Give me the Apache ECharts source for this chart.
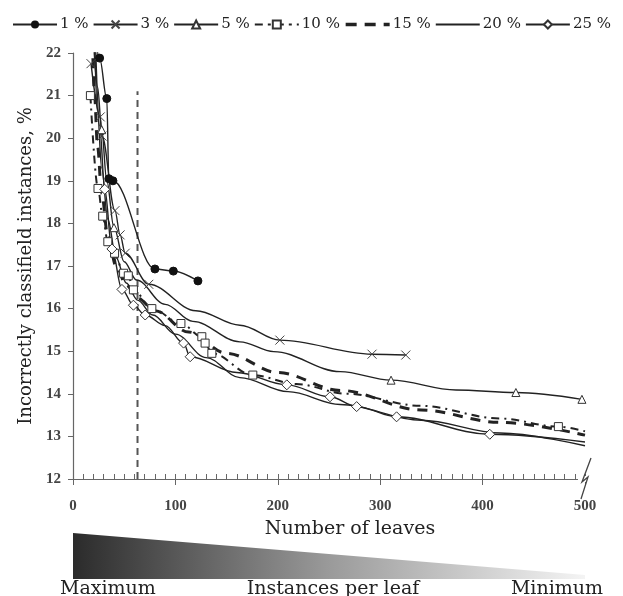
<!DOCTYPE html>
<html>
<head>
<meta charset="utf-8">
<script src="https://cdn.jsdelivr.net/npm/echarts@6/dist/echarts.min.js"></script>
<style>html,body{margin:0;padding:0;background:#fff}#c{width:623px;height:596px}</style>
</head>
<body>
<div id="c"></div>
<script>
// ---- data ----
const seriesNames = ['1 %', '3 %', '5 %', '10 %', '15 %', '20 %', '25 %'];
const pct1 = [[22,22.3],[26,21.88],[33,20.93],[35,19.05],[39,19.0],[80,16.93],[98,16.88],[122,16.65]];
const pct3 = [[17.6,21.75],[26.6,20.5],[28.3,20.05],[41,18.3],[46,17.73],[51,17.3],[74,16.57],[120,15.95],[163,15.61],[202,15.26],[292,14.93],[325,14.91]];
const pct5 = [[20,22.3],[24,21.2],[28,20.2],[33,19.0],[40,17.9],[50,17.1],[62,16.67],[90,16.1],[117,15.7],[163,15.22],[196,14.99],[261,14.52],[310.6,14.32],[374,14.09],[432.5,14.03],[497,13.87]];
const pct10 = [[17,21.0],[24.4,18.82],[29,18.17],[34,17.57],[40.6,17.3],[49.4,16.83],[54,16.77],[59,16.44],[77,16.0],[105.4,15.65],[125.8,15.34],[129,15.19],[135.6,14.95],[175.6,14.44],[218,14.23],[267,14.0],[339,13.72],[417,13.42],[474,13.23],[500,13.12]];
const pct15 = [[19,22.3],[21,21.0],[24,19.8],[28,18.7],[34,17.7],[42,17.0],[52,16.55],[63,16.25],[80,15.95],[113,15.45],[150,14.95],[200,14.5],[261,14.08],[340,13.62],[417,13.33],[500,13.03]];
const pct20 = [[21,22.3],[24,20.6],[28,19.3],[34,18.1],[42,17.2],[52,16.6],[63,16.2],[78,15.85],[100,15.4],[130,14.85],[163,14.38],[210,14.05],[261,13.75],[340,13.38],[417,13.08],[500,12.78]];
const pct25 = [[22,22.2],[26,20.3],[31,18.8],[38,17.4],[47.8,16.45],[59,16.08],[70.5,15.85],[90,15.6],[108,15.19],[114.4,14.87],[160,14.5],[208.8,14.21],[251,13.93],[277,13.7],[316,13.46],[407,13.05],[500,12.87]];
// indexes of the points that carry a visible marker
const marks1 = [0,1,2,3,4,5,6,7];
const marks3 = [0,1,2,3,4,5,6,9,10,11];
const marks5 = [2,4,12,14,15];
const marks10 = [0,1,2,3,4,5,6,7,8,9,10,11,12,13,18];
const marks25 = [2,3,4,5,6,8,9,11,12,13,14,15];
const cutoffLeaves = 63;
const cutoffRange = [12, 21.1];
const xTicks = [0, 100, 200, 300, 400, 500];
const yRange = [12, 22];
const bottomLabels = ['Maximum', 'Instances per leaf', 'Minimum'];

// ---- chart ----
const serif = 'DejaVu Serif';
const ink = '#222';
const chart = echarts.init(document.getElementById('c'), null, {renderer: 'canvas'});

function withMarks(values, marks) {
  return values.map((p, i) => (marks && marks.includes(i)) ? p : {value: p, symbol: 'none'});
}
function mkLine(name, values, marks, symbol, symbolSize, itemStyle, lineStyle) {
  return {
    name, type: 'line', data: withMarks(values, marks),
    symbol: symbol, symbolSize: symbolSize, showSymbol: true,
    smooth: 0.35, smoothMonotone: 'x', clip: true,
    itemStyle: itemStyle,
    lineStyle: Object.assign({color: ink, width: 1.4}, lineStyle || {}),
    emphasis: {disabled: true}, z: 3
  };
}
const openStyle = {color: '#fff', borderColor: '#333', borderWidth: 1};
const xSym = 'path://M0,0L10,10M10,0L0,10';
const hiddenMarker = {opacity: 0, color: 'transparent', borderColor: 'transparent', borderWidth: 0};
const legendStyles = {
  '10 %': {lineStyle: {width: 2.2, type: [8,5,3,5]}},
  '15 %': {itemStyle: hiddenMarker, lineStyle: {width: 3.5, type: [11,8]}},
  '20 %': {itemStyle: hiddenMarker}
};

const option = {
  animation: false,
  backgroundColor: '#fff',
  grid: {left: 73, right: 38, top: 53, bottom: 117, containLabel: false},
  legend: {
    data: seriesNames.map(n => legendStyles[n] ? Object.assign({name: n}, legendStyles[n]) : n),
    top: 12, left: 'center',
    itemWidth: 44, itemHeight: 10, itemGap: 4,
    textStyle: {fontFamily: serif, fontSize: 15, color: ink, padding: [0,0,0,-2]}
  },
  xAxis: [{
    type: 'value', min: 0, max: 500, interval: 100, position: 'bottom',
    axisLine: {show: true, lineStyle: {color: '#666', width: 1.2}},
    axisTick: {show: true, inside: false, length: 6, lineStyle: {color: '#666'}},
    axisLabel: {margin: 20, fontFamily: 'Liberation Serif', fontWeight: 'bold', fontSize: 15, color: '#444',
      formatter: v => xTicks.includes(v) ? String(v) : ''},
    splitLine: {show: false},
    name: 'Number of leaves', nameLocation: 'middle', nameGap: 41,
    nameTextStyle: {fontFamily: serif, fontSize: 19, color: ink, padding: [0,0,0,42]}
  }, {
    type: 'value', min: 0, max: 500, interval: 10, position: 'bottom',
    axisLine: {show: false},
    axisTick: {show: true, inside: true, length: 5, lineStyle: {color: '#666'}},
    axisLabel: {show: false}, splitLine: {show: false}
  }],
  yAxis: {
    type: 'value', min: yRange[0], max: yRange[1], interval: 1,
    axisLine: {show: true, lineStyle: {color: '#666', width: 1.2}},
    axisTick: {show: true, inside: false, length: 5, lineStyle: {color: '#666'}},
    axisLabel: {margin: 12, fontFamily: 'Liberation Serif', fontWeight: 'bold', fontSize: 15, color: '#444'},
    splitLine: {show: false},
    name: 'Incorrectly classifield instances, %', nameLocation: 'middle', nameGap: 38,
    nameTextStyle: {fontFamily: serif, fontSize: 18, color: ink}
  },
  series: [
    mkLine(seriesNames[0], pct1, marks1, 'circle', 8, {color: '#111', borderColor: '#111'}),
    mkLine(seriesNames[1], pct3, marks3, xSym, 9, {color: 'none', borderColor: '#444', borderWidth: 1}),
    mkLine(seriesNames[2], pct5, marks5, 'triangle', 8, openStyle),
    mkLine(seriesNames[3], pct10, marks10, 'rect', 8, openStyle, {width: 2, type: [8,5,2,5]}),
    mkLine(seriesNames[4], pct15, null, 'none', 0, {color: ink}, {width: 3, type: [10,8]}),
    mkLine(seriesNames[5], pct20, null, 'none', 0, {color: ink}),
    mkLine(seriesNames[6], pct25, marks25, 'diamond', 10, openStyle),
    {
      name: 'cutoff', type: 'line', symbol: 'none',
      data: [[cutoffLeaves, cutoffRange[0]], [cutoffLeaves, cutoffRange[1]]],
      lineStyle: {color: '#555', width: 2, type: [7,5]}, z: 2, emphasis: {disabled: true}
    }
  ]
};
chart.setOption(option);

// decorations derived from the axes
const p0 = chart.convertToPixel({gridIndex: 0}, [0, yRange[0]]);
const p1 = chart.convertToPixel({gridIndex: 0}, [500, yRange[0]]);
const bx = p1[0], by = p1[1];
const triTop = by + 54, triBot = by + 100;
chart.setOption({
  graphic: [
    {type: 'rect', shape: {x: bx - 7, y: by - 3, width: 14, height: 6}, style: {fill: '#fff'}, z: 50},
    {type: 'polyline', shape: {points: [[bx + 6, by - 21], [bx - 3, by + 3], [bx + 3, by - 2], [bx - 4, by + 20]]},
      style: {stroke: '#444', lineWidth: 1.3, fill: null}, z: 51},
    {type: 'polygon', shape: {points: [[p0[0], triTop], [bx, triBot - 4], [bx, triBot], [p0[0], triBot]]},
      style: {fill: new echarts.graphic.LinearGradient(0, 0, 1, 0, [
        {offset: 0, color: '#2b2b2b'}, {offset: 0.5, color: '#9a9a9a'}, {offset: 1, color: '#f4f4f4'}])}, z: 5},
    {type: 'text', style: {text: bottomLabels[0], x: p0[0] - 13, y: triBot + 10, fontFamily: serif, fontSize: 19, fill: ink, verticalAlign: 'middle', align: 'left'}},
    {type: 'text', style: {text: bottomLabels[1], x: (p0[0] + bx) / 2 + 4, y: triBot + 10, fontFamily: serif, fontSize: 19, fill: ink, verticalAlign: 'middle', align: 'center'}},
    {type: 'text', style: {text: bottomLabels[2], x: bx + 18, y: triBot + 10, fontFamily: serif, fontSize: 19, fill: ink, verticalAlign: 'middle', align: 'right'}}
  ]
});
</script>
</body>
</html>
